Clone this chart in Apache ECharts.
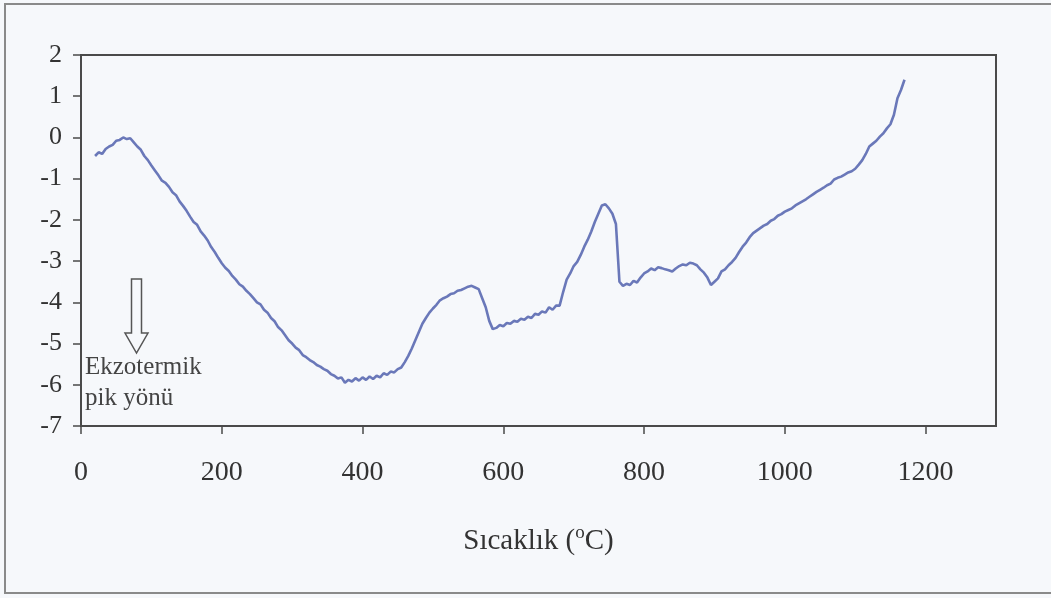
<!DOCTYPE html>
<html>
<head>
<meta charset="utf-8">
<script src="https://cdn.jsdelivr.net/npm/echarts@6/dist/echarts.min.js"></script>
<style>
html,body{margin:0;padding:0;background:#f6f8fb;}
#chart{width:1051px;height:598px;}
</style>
</head>
<body>
<div id="chart"></div>
<script>
// ---- data ----
var xTicks = [0, 200, 400, 600, 800, 1000, 1200];
var yTicks = [-7, -6, -5, -4, -3, -2, -1, 0, 1, 2];
var noteLines = ['Ekzotermik', 'pik yönü'];

var temps = [
  20,25,30,35,40,45,50,55,60,65,70,75,80,85,90,95,100,105,110,115,120,
  125,130,135,140,145,150,155,160,165,170,175,180,185,190,195,200,
  205,210,215,220,225,230,235,240,245,250,255,260,265,270,275,280,
  285,290,295,300,305,310,315,320,325,330,335,340,345,350,355,360,
  365,370,375,380,385,390,395,400,405,410,415,420,425,430,435,440,
  445,450,455,460,465,470,475,480,485,490,495,500,505,510,515,520,
  525,530,535,540,545,550,555,560,565,570,575,580,585,590,595,600,
  605,610,615,620,625,630,635,640,645,650,655,660,665,670,675,680,
  685,690,695,700,705,710,715,720,725,730,735,740,745,750,755,760,
  765,770,775,780,785,790,795,800,805,810,815,820,825,830,835,840,
  845,850,855,860,865,870,875,880,885,890,895,900,905,910,915,920,
  925,930,935,940,945,950,955,960,965,970,975,980,985,990,995,1000,
  1005,1010,1015,1020,1025,1030,1035,1040,1045,1050,1055,1060,1065,1070,1075,1080,
  1085,1090,1095,1100,1105,1110,1115,1120,1125,1130,1135,1140,1145,1150,1155,1160,
  1165,1170
];
var dta = [
  -0.45,-0.36,-0.40,-0.28,-0.22,-0.18,-0.08,-0.06,0.00,-0.04,-0.02,-0.12,-0.22,-0.30,-0.45,-0.55,-0.68,-0.80,-0.92,-1.05,-1.10,
  -1.20,-1.33,-1.40,-1.55,-1.66,-1.78,-1.92,-2.05,-2.12,-2.28,-2.38,-2.50,-2.66,-2.78,-2.92,-3.05,
  -3.16,-3.24,-3.36,-3.45,-3.56,-3.62,-3.72,-3.80,-3.90,-4.00,-4.05,-4.18,-4.25,-4.38,-4.46,-4.60,
  -4.68,-4.80,-4.92,-5.00,-5.10,-5.16,-5.28,-5.33,-5.40,-5.45,-5.52,-5.56,-5.62,-5.66,-5.74,-5.78,
  -5.85,-5.82,-5.95,-5.88,-5.92,-5.84,-5.90,-5.82,-5.88,-5.80,-5.86,-5.78,-5.82,-5.72,-5.76,-5.68,
  -5.70,-5.62,-5.58,-5.45,-5.30,-5.12,-4.92,-4.72,-4.52,-4.38,-4.25,-4.15,-4.06,-3.95,-3.90,-3.86,
  -3.80,-3.78,-3.72,-3.70,-3.66,-3.62,-3.60,-3.64,-3.68,-3.90,-4.12,-4.45,-4.65,-4.62,-4.55,-4.58,
  -4.50,-4.52,-4.45,-4.47,-4.40,-4.42,-4.35,-4.38,-4.28,-4.30,-4.22,-4.25,-4.12,-4.18,-4.08,-4.08,
  -3.75,-3.45,-3.30,-3.12,-3.02,-2.85,-2.65,-2.48,-2.28,-2.05,-1.85,-1.65,-1.62,-1.72,-1.85,-2.10,
  -3.50,-3.60,-3.55,-3.58,-3.48,-3.52,-3.40,-3.30,-3.25,-3.18,-3.22,-3.15,-3.17,-3.20,-3.22,-3.25,
  -3.18,-3.12,-3.08,-3.10,-3.04,-3.06,-3.10,-3.20,-3.28,-3.40,-3.58,-3.50,-3.42,-3.25,-3.20,-3.10,
  -3.02,-2.92,-2.78,-2.65,-2.55,-2.42,-2.32,-2.26,-2.20,-2.14,-2.10,-2.02,-1.98,-1.90,-1.86,-1.80,
  -1.76,-1.72,-1.65,-1.60,-1.55,-1.50,-1.44,-1.38,-1.32,-1.27,-1.22,-1.16,-1.12,-1.02,-0.98,-0.95,
  -0.90,-0.85,-0.82,-0.76,-0.66,-0.55,-0.40,-0.22,-0.15,-0.08,0.02,0.10,0.22,0.32,0.55,0.95,
  1.15,1.40
];

var seriesData = temps.map(function (t, i) { return [t, dta[i]]; });

var chart = echarts.init(document.getElementById('chart'), null, {renderer: 'canvas'});
var serif = 'Liberation Serif';
var axisColor = '#4a4a4a';

chart.setOption({
  backgroundColor: '#f6f8fb',
  animation: false,
  grid: {
    left: 81, right: 55, top: 55, bottom: 172,
    show: true, borderColor: axisColor, borderWidth: 2, backgroundColor: 'transparent'
  },
  xAxis: {
    type: 'value',
    min: xTicks[0], max: 1300, interval: xTicks[1] - xTicks[0],
    name: '{main|Sıcaklık (}{sup|o}{main|C)}',
    nameLocation: 'middle',
    nameGap: 98,
    nameTextStyle: {
      fontFamily: serif, fontSize: 29, color: '#333',
      rich: {
        main: { fontFamily: serif, fontSize: 29, color: '#333', lineHeight: 32, verticalAlign: 'bottom' },
        sup: { fontFamily: serif, fontSize: 19, color: '#333', lineHeight: 19, verticalAlign: 'top' }
      }
    },
    axisLine: { show: true, onZero: false, lineStyle: { color: axisColor, width: 2 } },
    axisTick: { show: true, inside: false, length: 8, lineStyle: { color: axisColor, width: 1.5 } },
    axisLabel: {
      show: true, margin: 33, fontFamily: serif, fontSize: 28, color: '#333',
      showMaxLabel: false,
      formatter: function (v) { return xTicks.indexOf(v) >= 0 ? String(v) : ''; }
    },
    splitLine: { show: false }
  },
  yAxis: {
    type: 'value',
    min: yTicks[0], max: yTicks[yTicks.length - 1], interval: 1,
    axisLine: { show: true, onZero: false, lineStyle: { color: axisColor, width: 2 } },
    axisTick: { show: true, inside: false, length: 8, lineStyle: { color: axisColor, width: 1.5 } },
    axisLabel: { show: true, margin: 19, fontFamily: serif, fontSize: 26, color: '#333' },
    splitLine: { show: false }
  },
  series: [{
    type: 'line',
    data: seriesData,
    showSymbol: false,
    smooth: false,
    lineStyle: { color: '#6a78b9', width: 2.6 },
    itemStyle: { color: '#6a78b9' }
  }],
  graphic: [
    {
      type: 'rect', silent: true,
      shape: { x: 5, y: 4, width: 1100, height: 589 },
      style: { fill: 'none', stroke: '#8a8a8a', lineWidth: 2 }
    },
    {
      type: 'polygon', silent: true,
      shape: { points: [[131.5, 279], [141.5, 279], [141.5, 333], [148, 333], [136.5, 353], [125, 333], [131.5, 333]] },
      style: { fill: 'none', stroke: '#555', lineWidth: 1.5 }
    },
    {
      type: 'text', silent: true, left: 85, top: 352,
      style: { text: noteLines.join('\n'), fontFamily: serif, fontSize: 25, lineHeight: 31, fill: '#444' }
    }
  ]
});
</script>
</body>
</html>
